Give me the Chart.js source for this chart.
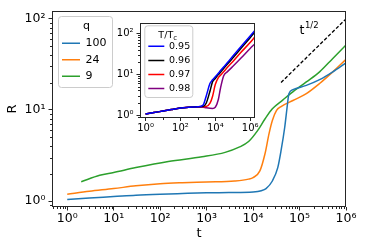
<!DOCTYPE html>
<html><head><meta charset="utf-8">
<script src="https://cdn.jsdelivr.net/npm/chart.js@4/dist/chart.umd.min.js"></script>
<style>
html,body{margin:0;padding:0;background:#fff;}
#wrap{position:relative;width:366px;height:251px;overflow:hidden;}
#main{position:absolute;left:0;top:0;}
#inset{position:absolute;left:100px;top:14px;}
</style></head><body>
<div id="wrap"><canvas id="main" width="366" height="251"></canvas><canvas id="inset" width="165" height="125"></canvas></div>
<script>
// ---------- main panel data ----------
const qLabels = ['100', '24', '9'];
const qColors = ['#1f77b4', '#ff7f0e', '#2ca02c'];
const tQ100 = [1, 3, 10, 30, 100, 300, 1000, 3000, 10000, 15000, 19000, 26000, 34000, 40000, 48000, 54000, 59000, 72000, 140000, 270000, 520000, 1000000];
const rQ100 = [1.04, 1.08, 1.12, 1.16, 1.19, 1.21, 1.23, 1.24, 1.26, 1.3, 1.37, 1.66, 2.33, 3.57, 6.46, 10.7, 15.1, 16.7, 18.6, 21.5, 26.2, 32.9];
const tQ24 = [1, 3, 10, 30, 100, 300, 1000, 4000, 8000, 10000, 14000, 18000, 22000, 26000, 32000, 40000, 72000, 140000, 270000, 520000, 1000000];
const rQ24 = [1.19, 1.28, 1.37, 1.47, 1.55, 1.59, 1.62, 1.66, 1.74, 1.81, 2.14, 3.28, 5.46, 7.65, 9.87, 10.9, 12.7, 15.1, 19.5, 26.2, 35.9];
const tQ9 = [2, 5, 10, 30, 150, 800, 2500, 5000, 8000, 12500, 18000, 26000, 44000, 66000, 140000, 270000, 520000, 1000000];
const rQ9 = [1.63, 1.92, 2.06, 2.33, 2.72, 3.06, 3.42, 3.9, 4.5, 5.93, 7.95, 10.3, 12.9, 15.3, 20.3, 26.2, 36.8, 51.6];
const tGuide = [40000, 1000000];
const rGuide = [20, 100];
const mainXTicks = [1, 10, 100, 1000, 10000, 100000, 1000000];
const mainYTicks = [1, 10, 100];

// ---------- inset data ----------
const tempLabels = ['0.95', '0.96', '0.97', '0.98'];
const tempColors = ['#0000ff', '#000000', '#ff0000', '#800080'];
const tInset = [1, 3, 10, 30, 100, 300, 1000, 2000, 3000, 5000, 7000, 10000, 15000, 20000, 30000, 50000, 100000, 300000, 1000000, 1900000];
const rT095 = [1.06, 1.15, 1.25, 1.36, 1.48, 1.55, 1.6, 1.75, 2.9, 6.0, 7.3, 8.7, 10.6, 12.3, 15, 19.5, 27.5, 48, 87, 120];
const rT096 = [1.06, 1.15, 1.25, 1.36, 1.48, 1.55, 1.6, 1.63, 1.95, 3.9, 6.6, 7.9, 9.8, 11.2, 13.8, 17.8, 25, 43.6, 79, 110];
const rT097 = [1.06, 1.15, 1.25, 1.36, 1.48, 1.55, 1.6, 1.61, 1.62, 1.95, 2.9, 5.6, 8.3, 9.5, 11.5, 14.8, 20.4, 34.7, 60, 83];
const rT098 = [1.06, 1.15, 1.25, 1.36, 1.48, 1.55, 1.58, 1.55, 1.5, 1.46, 1.45, 1.55, 2.4, 4.6, 9.1, 11.6, 15.5, 25, 43, 56];
const insetXTicks = [1, 100, 10000, 1000000];
const insetYTicks = [1, 10, 100];

// ---------- helpers ----------
const FAMILY = "'DejaVu Sans', 'Liberation Sans', sans-serif";
Chart.defaults.font.family = FAMILY;
Chart.defaults.color = '#000';
const SUP = {'0':'⁰','1':'¹','2':'²','3':'³','4':'⁴','5':'⁵','6':'⁶','7':'⁷','8':'⁸','9':'⁹','-':'⁻'};
const pow10 = v => '10' + String(Math.round(Math.log10(v))).split('').map(c => SUP[c]).join('');
const pts = (t, r) => t.map((x, i) => ({x: x, y: r[i]}));
const SPINE = '#262626';

function line(label, t, r, color, extra) {
  return Object.assign({
    label: label, data: pts(t, r), borderColor: color, backgroundColor: color,
    pointBorderColor: color, pointBackgroundColor: color, pointBorderWidth: 1.5,
    borderWidth: 1.5, pointRadius: 0, pointHoverRadius: 0, fill: false,
    cubicInterpolationMode: 'monotone'
  }, extra || {});
}

function logAxis(o) {
  return {
    type: 'logarithmic', position: o.position, min: o.min, max: o.max, bounds: 'data',
    afterBuildTicks: s => { s.ticks = o.ticks.map(v => ({value: v, major: true})); },
    afterFit: s => { if (o.position === 'left') s.width = o.size; else s.height = o.size; },
    ticks: { autoSkip: false, maxRotation: 0, minRotation: 0, padding: o.pad,
      font: {size: o.font, family: FAMILY}, color: '#000', callback: v => pow10(v) },
    grid: { drawOnChartArea: false, drawTicks: true, tickLength: 3.5, tickColor: SPINE, tickWidth: 1 },
    border: { display: false },
    title: o.title ? { display: true, text: o.title, color: '#000',
      font: {size: o.titleSize, family: FAMILY, lineHeight: 1.2}, padding: o.titlePad } : { display: false }
  };
}

// frame + minor ticks
const framePlugin = {
  id: 'framePlugin',
  beforeDraw(chart, args, o) {
    const {ctx, chartArea: a} = chart;
    ctx.save();
    ctx.fillStyle = '#fff';
    if (o.fillAll) ctx.fillRect(0, 0, chart.width, chart.height);
    else ctx.fillRect(a.left, a.top, a.right - a.left, a.bottom - a.top);
    ctx.restore();
  },
  afterDatasetsDraw(chart, args, o) {
    const {ctx, chartArea: a} = chart;
    ctx.save();
    ctx.strokeStyle = SPINE; ctx.lineWidth = 1;
    ['x', 'y'].forEach(id => {
      const s = chart.scales[id];
      const step = o[id + 'Step'] || 1;
      const lo = Math.floor(Math.log10(s.min)), hi = Math.ceil(Math.log10(s.max));
      const vals = [];
      for (let e = lo; e <= hi; e++) {
        if (step === 1) { for (let m = 2; m <= 9; m++) vals.push(m * Math.pow(10, e)); }
        else if (((e % step) + step) % step !== 0) vals.push(Math.pow(10, e));
      }
      ctx.beginPath();
      vals.forEach(v => {
        if (v < s.min || v > s.max) return;
        const p = Math.round(s.getPixelForValue(v)) + 0.5;
        if (id === 'x') { ctx.moveTo(p, Math.round(a.bottom)); ctx.lineTo(p, Math.round(a.bottom) + 2); }
        else { ctx.moveTo(Math.round(a.left), p); ctx.lineTo(Math.round(a.left) - 2, p); }
      });
      ctx.stroke();
    });
    ctx.strokeRect(Math.round(a.left) + 0.5, Math.round(a.top) + 0.5,
      Math.round(a.right) - Math.round(a.left) - 1, Math.round(a.bottom) - Math.round(a.top) - 1);
    ctx.restore();
  }
};

// place legend inside the axes, and draw its frame
const placeLegend = {
  id: 'placeLegend',
  afterUpdate(chart, args, o) {
    const lg = chart.legend; if (!lg) return;
    const w = lg.width, h = lg.height;
    lg.left = o.x; lg.top = o.y; lg.right = o.x + w; lg.bottom = o.y + h;
  },
  beforeDraw(chart, args, o) {
    const ctx = chart.ctx, f = o.frame;
    ctx.save();
    ctx.beginPath();
    ctx.roundRect(f.x + 0.5, f.y + 0.5, f.w, f.h, 3);
    ctx.fillStyle = 'rgba(255,255,255,0.8)'; ctx.fill();
    ctx.strokeStyle = '#cccccc'; ctx.lineWidth = 1; ctx.stroke();
    ctx.restore();
  }
};

// text with a superscript / subscript part
const richText = {
  id: 'richText',
  afterDraw(chart, args, o) {
    const ctx = chart.ctx;
    (o.items || []).forEach(it => {
      let x = it.x, y = it.y;
      if (it.data) { x = chart.scales.x.getPixelForValue(it.t); y = chart.scales.y.getPixelForValue(it.r); }
      ctx.save();
      ctx.fillStyle = '#000'; ctx.textBaseline = 'alphabetic'; ctx.textAlign = 'left';
      ctx.font = it.size + 'px ' + FAMILY;
      const w1 = ctx.measureText(it.base).width;
      ctx.font = it.smallSize + 'px ' + FAMILY;
      const w2 = ctx.measureText(it.small).width;
      if (it.center) x = x - (w1 + w2) / 2;
      ctx.font = it.size + 'px ' + FAMILY;
      ctx.fillText(it.base, x, y);
      ctx.font = it.smallSize + 'px ' + FAMILY;
      ctx.fillText(it.small, x + w1 + (it.gap || 0), y + it.dy);
      ctx.restore();
    });
  }
};

// ---------- main chart ----------
new Chart(document.getElementById('main'), {
  type: 'line',
  data: { datasets: [
    line(qLabels[0], tQ100, rQ100, qColors[0]),
    line(qLabels[1], tQ24, rQ24, qColors[1]),
    line(qLabels[2], tQ9, rQ9, qColors[2]),
    line('guide', tGuide, rGuide, '#000', {borderDash: [3.5, 2], borderWidth: 1.3, cubicInterpolationMode: 'default', tension: 0})
  ]},
  options: {
    responsive: false, animation: false, devicePixelRatio: 1,
    layout: { padding: {left: 0, right: 20, top: 11, bottom: 0} },
    scales: {
      x: logAxis({position: 'bottom', min: 0.47, max: 1e6, ticks: mainXTicks, size: 44, pad: 1, font: 12.5,
        title: 't', titleSize: 13, titlePad: {top: 0, bottom: 10}}),
      y: logAxis({position: 'left', min: 0.86, max: 122, ticks: mainYTicks, size: 52, pad: 3, font: 12.5,
        title: 'R', titleSize: 13, titlePad: {top: 4.5, bottom: 0}})
    },
    plugins: {
      legend: {
        position: 'chartArea', align: 'start',
        labels: { usePointStyle: true, pointStyle: 'line', pointStyleWidth: 18, padding: 5.5,
          font: {size: 11, family: FAMILY}, color: '#000', filter: it => it.datasetIndex < 3 },
        title: { display: true, text: 'q', color: '#000', font: {size: 11, family: FAMILY, lineHeight: 1.2},
          padding: {top: 1.5, bottom: -1.5} }
      },
      tooltip: { enabled: false },
      framePlugin: { fillAll: true, xStep: 1, yStep: 1 },
      placeLegend: { x: 56.5, y: 19, frame: {x: 58, y: 16, w: 54, h: 71} },
      richText: { items: [ {data: true, t: 1e5, r: 69, base: 't', small: '1/2', size: 12.5, smallSize: 8.5, dy: -6, gap: 0.5} ] }
    }
  },
  plugins: [framePlugin, placeLegend, richText]
});

// ---------- inset chart ----------
new Chart(document.getElementById('inset'), {
  type: 'line',
  data: { datasets: [
    line(tempLabels[0], tInset, rT095, tempColors[0]),
    line(tempLabels[1], tInset, rT096, tempColors[1]),
    line(tempLabels[2], tInset, rT097, tempColors[2]),
    line(tempLabels[3], tInset, rT098, tempColors[3])
  ]},
  options: {
    responsive: false, animation: false, devicePixelRatio: 1,
    layout: { padding: {left: 0, right: 10, top: 8, bottom: 0} },
    scales: {
      x: logAxis({position: 'bottom', min: 0.48, max: 1.9e6, ticks: insetXTicks, size: 21.5, pad: 1, font: 10}),
      y: logAxis({position: 'left', min: 0.87, max: 181, ticks: insetYTicks, size: 40, pad: 3, font: 10})
    },
    plugins: {
      legend: {
        position: 'chartArea', align: 'start',
        labels: { usePointStyle: true, pointStyle: 'line', pointStyleWidth: 16, padding: 4.6,
          font: {size: 9.5, family: FAMILY}, color: '#000' },
        title: { display: false }
      },
      tooltip: { enabled: false },
      framePlugin: { fillAll: false, xStep: 2, yStep: 1 },
      placeLegend: { x: 43.7, y: 22.95, frame: {x: 44.3, y: 11.3, w: 48, h: 71.7} },
      richText: { items: [ {x: 67.7, y: 24, center: true, base: 'T/T', small: 'c', size: 9.5, smallSize: 7, dy: 2, gap: 0} ] }
    }
  },
  plugins: [framePlugin, placeLegend, richText]
});
</script>
</body></html>
